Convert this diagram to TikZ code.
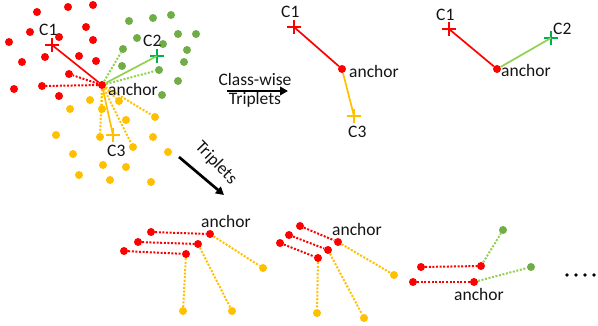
\documentclass[tikz,border=0pt]{standalone}
\usepackage{fontspec}
\setmainfont{Carlito}
\usetikzlibrary{arrows.meta}
\definecolor{cred}{HTML}{FF0000}
\definecolor{cgreen}{HTML}{70AD47}
\definecolor{clgreen}{HTML}{92D050}
\definecolor{cxgreen}{HTML}{00B050}
\definecolor{cyellow}{HTML}{FFC000}
\definecolor{ctext}{HTML}{141414}
\tikzset{
  dotnode/.style={circle, inner sep=0pt, minimum size=8pt, fill=#1, draw=none},
  rdot/.style={dotnode=cred},
  gdot/.style={dotnode=cgreen},
  ydot/.style={dotnode=cyellow},
  plusmark/.style={inner sep=0pt, minimum size=14pt, draw=none,
    path picture={\draw[#1, line width=2pt]
      (path picture bounding box.north) -- (path picture bounding box.south)
      (path picture bounding box.west) -- (path picture bounding box.east);}},
  solidline/.style={#1, line width=1.7pt},
  dotline/.style={#1, line width=2pt, dash pattern=on 2pt off 1.6pt},
  lbl/.style={anchor=base west, inner sep=0pt, text=ctext, font=\fontsize{17.5}{19}\selectfont},
  bigarrow/.style={-{Triangle[length=8pt,width=8.5pt]}, line width=2.7pt, black},
}
\begin{document}
\begin{tikzpicture}[x=1pt,y=-1pt]
\useasboundingbox (0,0) rectangle (598,325);

% ---------- left cluster ----------
\foreach \p [count=\i] in {{37,12},{68,7},{93,5},{30,32},{59,37},{86,27},{9,42},{93,40},{45,57},{79,56},{96,61},{22,62},{69,74},{14,89},{42,86},{59,96}}
  \node[rdot] (lr\i) at (\p) {};
\foreach \p [count=\i] in {{129,21},{153,18},{171,15},{137,38},{178,34},{196,34},{163,44},{123,49},{187,50},{184,62},{122,66},{159,70},{178,81},{162,95}}
  \node[gdot] (lg\i) at (\p) {};
\foreach \p [count=\i] in {{90,100},{70,109},{102,109},{119,101},{155,117},{126,120},{56,135},{100,137},{153,137},{133,147},{73,154},{168,152},{103,165},{126,167},{79,175},{110,180},{151,182}}
  \node[ydot] (ly\i) at (\p) {};

\node[plusmark=cred] (lc1) at (52,45) {};
\node[plusmark=cxgreen] (lc2) at (157,56) {};
\node[plusmark=cyellow] (lc3) at (113,135) {};

\node[rdot] (la) at (102,85) {};
\draw[dotline=cred] (la) -- (lr15);
\draw[dotline=cred] (la) -- (lr13);
\draw[solidline=cred] (la) -- (lc1.center);
\draw[dotline=clgreen] (la) -- (lg8);
\draw[dotline=clgreen] (la) -- (lg12);
\draw[solidline=clgreen] (la) -- (lc2.center);
\draw[dotline=cyellow] (la) -- (ly3);
\draw[dotline=cyellow] (la) -- (ly4);
\draw[dotline=cyellow] (la) -- (ly5);
\draw[dotline=cyellow] (la) -- (ly8);
\draw[dotline=cyellow] (la) -- (ly10);
\draw[solidline=cyellow] (la) -- (lc3.center);

\node[lbl] (tlc1) at (39,35) {C1};
\node[lbl] (tlc2) at (143,46.5) {C2};
\node[lbl] (tlc3) at (107,156.5) {C3};
\node[lbl] (tla) at (108,95) {anchor};

% ---------- class-wise arrow ----------
\coordinate (cwa) at (227,91);
\coordinate (cwb) at (288,91);
\draw[bigarrow] (cwa) -- (cwb);
\node[inner sep=0pt, align=center, text=ctext, font=\fontsize{17.5}{19}\selectfont] (tcw) at (255,90) {Class-wise\\Triplets};

% ---------- middle triplet ----------
\node[plusmark=cred] (mc1) at (294,27) {};
\node[plusmark=cyellow] (mc3) at (354,116) {};
\node[rdot] (ma) at (342,69) {};
\draw[solidline=cred] (ma) -- (mc1.center);
\draw[solidline=cyellow] (ma) -- (mc3.center);
\node[lbl] (tmc1) at (281,17.5) {C1};
\node[lbl] (tmc3) at (348,137) {C3};
\node[lbl] (tma) at (349,77) {anchor};

% ---------- right triplet ----------
\node[plusmark=cred] (rc1) at (449,29) {};
\node[plusmark=cxgreen] (rc2) at (551,38) {};
\node[rdot] (ra) at (497,69) {};
\draw[solidline=cred] (ra) -- (rc1.center);
\draw[solidline=clgreen] (ra) -- (rc2.center);
\node[lbl] (trc1) at (436,20.5) {C1};
\node[lbl] (trc2) at (553,34.5) {C2};
\node[lbl] (tra) at (501,76) {anchor};

% ---------- triplets arrow ----------
\coordinate (tpa) at (179,157);
\coordinate (tpb) at (224,195);
\draw[bigarrow] (tpa) -- (tpb);
\node[inner sep=0pt, text=ctext, font=\fontsize{17.5}{19}\selectfont, rotate=-46] (ttp) at (216,163) {Triplets};

% ---------- bottom group 1 ----------
\node[rdot] (b1r1) at (151,232) {};
\node[rdot] (b1r2) at (138,242) {};
\node[rdot] (b1r3) at (124,251) {};
\node[rdot] (b1a1) at (210,234) {};
\node[rdot] (b1a2) at (198,244) {};
\node[rdot] (b1a3) at (186,254) {};
\node[ydot] (b1y1) at (263,268) {};
\node[ydot] (b1y2) at (232,311) {};
\node[ydot] (b1y3) at (183,311) {};
\draw[dotline=cred] (b1r1) -- (b1a1);
\draw[dotline=cred] (b1r2) -- (b1a2);
\draw[dotline=cred] (b1r3) -- (b1a3);
\draw[dotline=cyellow] (b1a1) -- (b1y1);
\draw[dotline=cyellow] (b1a2) -- (b1y2);
\draw[dotline=cyellow] (b1a3) -- (b1y3);
\node[lbl] (tb1) at (201,227) {anchor};

% ---------- bottom group 2 ----------
\node[rdot] (b2r1) at (300,226) {};
\node[rdot] (b2r2) at (289,235) {};
\node[rdot] (b2r3) at (280,243) {};
\node[rdot] (b2a1) at (338,242) {};
\node[rdot] (b2a2) at (328,250) {};
\node[rdot] (b2a3) at (318,258) {};
\node[ydot] (b2y1) at (394,275) {};
\node[ydot] (b2y2) at (364,318) {};
\node[ydot] (b2y3) at (317,313) {};
\draw[dotline=cred] (b2r1) -- (b2a1);
\draw[dotline=cred] (b2r2) -- (b2a2);
\draw[dotline=cred] (b2r3) -- (b2a3);
\draw[dotline=cyellow] (b2a1) -- (b2y1);
\draw[dotline=cyellow] (b2a2) -- (b2y2);
\draw[dotline=cyellow] (b2a3) -- (b2y3);
\node[lbl] (tb2) at (332,235) {anchor};

% ---------- bottom group 3 ----------
\node[rdot] (b3r1) at (421,267) {};
\node[rdot] (b3r2) at (413,282) {};
\node[rdot] (b3a1) at (481,266) {};
\node[rdot] (b3a2) at (474,282) {};
\node[gdot] (b3g1) at (503,230) {};
\node[gdot] (b3g2) at (531,267) {};
\draw[dotline=cred] (b3r1) -- (b3a1);
\draw[dotline=cred] (b3r2) -- (b3a2);
\draw[dotline=clgreen] (b3a1) -- (b3g1);
\draw[dotline=clgreen] (b3a2) -- (b3g2);
\node[lbl] (tb3) at (454,300) {anchor};

% ---------- ellipsis ----------
\foreach \x [count=\i] in {567,576,585,594}
  \node[circle, fill=black, inner sep=0pt, minimum size=3.8pt] (el\i) at (\x,275) {};
\end{tikzpicture}
\end{document}
